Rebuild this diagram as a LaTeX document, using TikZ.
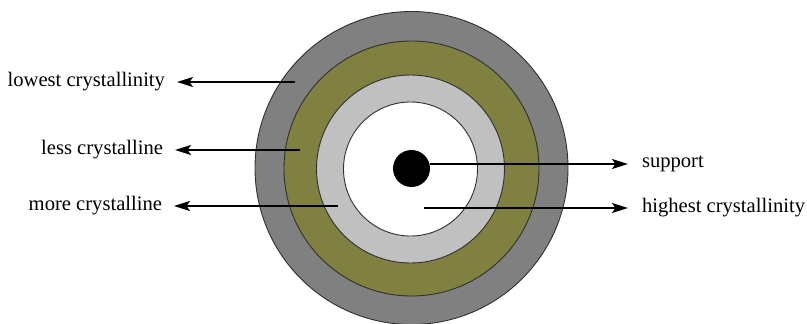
\documentclass[tikz,border=0pt]{standalone}
\usepackage{fontspec}
\setmainfont{Liberation Serif}
\usetikzlibrary{arrows.meta}
\definecolor{ringgray}{HTML}{808080}
\definecolor{ringolive}{HTML}{808040}
\definecolor{ringlight}{HTML}{C0C0C0}
\definecolor{edgecol}{HTML}{303030}
\begin{document}
\begin{tikzpicture}[x=1pt,y=-1pt,
  ring/.style={draw=edgecol,line width=0.9pt},
  lbl/.style={font=\fontsize{20.6}{24}\selectfont,inner sep=0pt},
  lblL/.style={lbl,anchor=east,outer xsep=12pt},
  lblR/.style={lbl,anchor=west,outer xsep=14pt},
  arr/.style={line width=1.8pt,-{Stealth[length=16pt,width=10pt,inset=3.5pt]}}]
\useasboundingbox (0,0) rectangle (807,324);
\fill[white] (0,0) rectangle (807,324);
% rings
\draw[ring,fill=ringgray] (411.5,168) circle (156.5);
\draw[ring,fill=ringolive] (411.5,168.5) circle (127.5);
\draw[ring,fill=ringlight] (410.5,169) circle (94);
\draw[ring,fill=white] (410.5,169) circle (67);
\fill[black] (411.5,168.5) circle (18.5);
% anchor points
\coordinate (p1) at (295,82);
\coordinate (p2) at (300,150);
\coordinate (p3) at (338,206);
\coordinate (p4) at (430,164);
\coordinate (p5) at (424,208);
% labels (positioned by the arrow tip)
\node[lblL] (t1) at (177,82) {lowest crystallinity};
\node[lblL] (t2) at (175,150) {less crystalline};
\node[lblL] (t3) at (174,206) {more crystalline};
\node[lblR] (t4) at (628,164) {support};
\node[lblR] (t5) at (628,208) {highest crystallinity};
% arrows
\draw[arr] (p1) -- (t1.east);
\draw[arr] (p2) -- (t2.east);
\draw[arr] (p3) -- (t3.east);
\draw[arr] (p4) -- (t4.west);
\draw[arr] (p5) -- (t5.west);
\end{tikzpicture}
\end{document}
